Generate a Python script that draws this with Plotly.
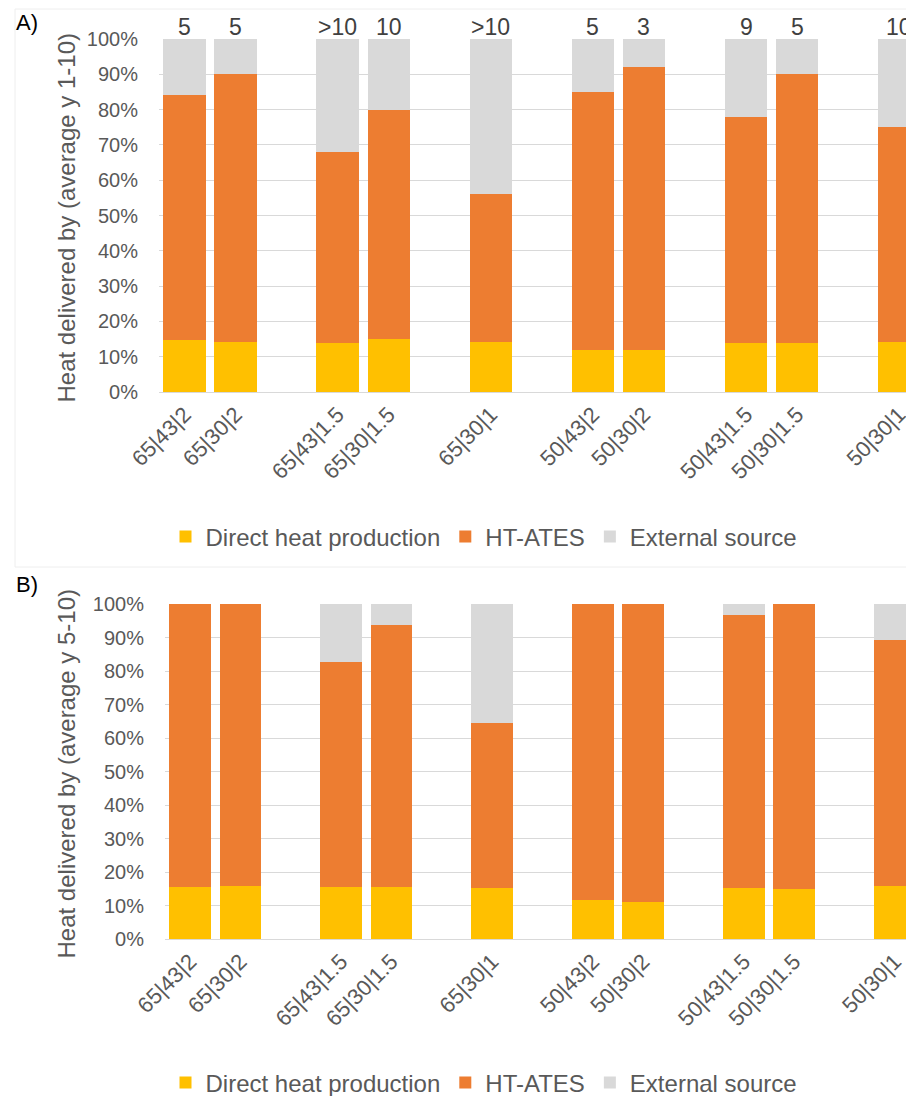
import plotly.graph_objects as go

# Categories (blank strings are the gaps between scenario groups)
categories = ["65|43|2", "65|30|2", " ", "65|43|1.5", "65|30|1.5", "  ",
              "65|30|1", "   ", "50|43|2", "50|30|2", "    ",
              "50|43|1.5", "50|30|1.5", "     ", "50|30|1"]

# Panel A (average y 1-10), percent
a_direct = [14.8, 14.3, None, 13.9, 14.9, None, 14.3, None, 11.9, 11.9, None, 13.9, 13.9, None, 14.2]
a_ates = [69.2, 75.7, None, 54.1, 65.1, None, 41.7, None, 73.1, 80.1, None, 64.1, 76.1, None, 60.8]
a_external = [16.0, 10.0, None, 32.0, 20.0, None, 44.0, None, 15.0, 8.0, None, 22.0, 10.0, None, 25.0]
a_top_labels = ["5", "5", "", ">10", "10", "", ">10", "", "5", "3", "", "9", "5", "", "10"]

# Panel B (average y 5-10), percent
b_direct = [15.5, 15.7, None, 15.6, 15.6, None, 15.3, None, 11.6, 11.0, None, 15.2, 14.9, None, 15.7]
b_ates = [84.5, 84.3, None, 67.2, 78.2, None, 49.1, None, 88.4, 89.0, None, 81.4, 85.1, None, 73.6]
b_external = [0.0, 0.0, None, 17.2, 6.2, None, 35.6, None, 0.0, 0.0, None, 3.4, 0.0, None, 10.7]

series_names = ["Direct heat production", "HT-ATES", "External source"]
colors = ["#FFC000", "#ED7D31", "#D9D9D9"]

# page body has an 8px margin: figure is sized so it fits the 914x1104 window
OFF = 8
W, H = 914 - OFF, 1104 - 2 * OFF
FONT = "Liberation Sans, Arial, sans-serif"
GRID = "#D9D9D9"
TXT = "#595959"

def px(x):
    return (x - OFF) / W

def py(y):
    return 1 - (y - OFF) / H

fig = go.Figure()

for name, col, vals in zip(series_names, colors, [a_direct, a_ates, a_external]):
    fig.add_trace(go.Bar(x=categories, y=vals, name=name, marker_color=col,
                         marker_line_width=0, xaxis="x", yaxis="y", legend="legend"))
for name, col, vals in zip(series_names, colors, [b_direct, b_ates, b_external]):
    fig.add_trace(go.Bar(x=categories, y=vals, name=name, marker_color=col,
                         marker_line_width=0, xaxis="x2", yaxis="y2", legend="legend2"))

def xaxis_cfg(left_px, rmax, anchor):
    return dict(domain=[px(left_px), 1], range=[-0.5, rmax], type="category",
                categoryorder="array", categoryarray=categories,
                tickangle=-45, tickfont=dict(family=FONT, size=22, color=TXT),
                showline=True, linecolor=GRID, linewidth=1, showgrid=False,
                ticks="", anchor=anchor, automargin=False)

def yaxis_cfg(top_px, bot_px, anchor):
    return dict(domain=[py(bot_px), py(top_px)], range=[0, 100], dtick=10,
                ticksuffix="%", showgrid=True, gridcolor=GRID, gridwidth=1,
                zeroline=False, tickfont=dict(family=FONT, size=20, color=TXT),
                ticklabelstandoff=20, anchor=anchor, automargin=False)

fig.update_layout(
    width=W, height=H,
    margin=dict(l=0, r=0, t=0, b=0, autoexpand=False),
    paper_bgcolor="white", plot_bgcolor="white",
    barmode="stack", bargap=0.17,
    xaxis=xaxis_cfg(159, 14.29, "y"),
    yaxis=yaxis_cfg(39, 392, "x"),
    xaxis2=xaxis_cfg(165, 14.38, "y2"),
    yaxis2=yaxis_cfg(604, 939, "x2"),
    legend=dict(orientation="h", x=px(484), xanchor="center", y=py(537), yanchor="middle",
                font=dict(family=FONT, size=24, color=TXT), traceorder="normal",
                itemwidth=30, bgcolor="rgba(0,0,0,0)"),
    legend2=dict(orientation="h", x=px(484), xanchor="center", y=py(1083), yanchor="middle",
                 font=dict(family=FONT, size=24, color=TXT), traceorder="normal",
                 itemwidth=30, bgcolor="rgba(0,0,0,0)"),
    showlegend=True,
)

annotations = []
for cat, lab in zip(categories, a_top_labels):
    if lab:
        annotations.append(dict(x=cat, y=100, xref="x", yref="y", text=lab, showarrow=False,
                                yanchor="middle", yshift=12,
                                font=dict(family=FONT, size=23, color="#404040")))

annotations += [
    dict(x=px(14), y=py(8), xref="paper", yref="paper", text="A)", showarrow=False,
         xanchor="left", yanchor="top", font=dict(family=FONT, size=22, color="black")),
    dict(x=px(14), y=py(570), xref="paper", yref="paper", text="B)", showarrow=False,
         xanchor="left", yanchor="top", font=dict(family=FONT, size=22, color="black")),
    dict(x=px(66), y=py((39 + 392) / 2 + 2), xref="paper", yref="paper",
         text="Heat delivered by (average y 1-10)", textangle=-90, showarrow=False,
         xanchor="center", yanchor="middle", font=dict(family=FONT, size=24, color=TXT)),
    dict(x=px(66), y=py((604 + 939) / 2 + 2), xref="paper", yref="paper",
         text="Heat delivered by (average y 5-10)", textangle=-90, showarrow=False,
         xanchor="center", yanchor="middle", font=dict(family=FONT, size=24, color=TXT)),
]
fig.update_layout(annotations=annotations)

fig.add_shape(type="rect", xref="paper", yref="paper", x0=px(15), x1=1.01, y0=py(567), y1=py(9),
              line=dict(color="#EEEEEE", width=1), fillcolor="rgba(0,0,0,0)", layer="below")

fig.write_html("out.html")
